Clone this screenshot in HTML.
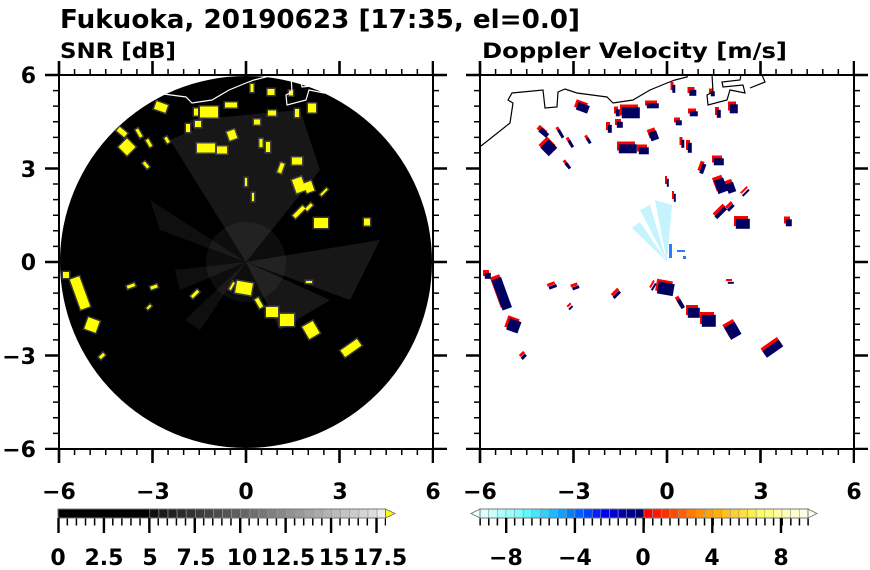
<!DOCTYPE html>
<html><head><meta charset="utf-8"><style>
html,body{margin:0;padding:0;background:#fff}
svg{display:block}
text{font-family:"DejaVu Sans","Liberation Sans",sans-serif;font-weight:bold;fill:#000}
</style></head><body>
<svg width="870" height="570" viewBox="0 0 870 570" xmlns="http://www.w3.org/2000/svg" xmlns:xlink="http://www.w3.org/1999/xlink">
<defs>
<g id="blobs">
<rect x="-6" y="-4" width="12" height="8" transform="translate(-85,-155) rotate(20)"/>
<rect x="-9" y="-5.5" width="18" height="11" transform="translate(-37,-150)"/>
<rect x="-6" y="-2.5" width="12" height="5" transform="translate(-15,-157)"/>
<rect x="-2" y="-3.5" width="4" height="7" transform="translate(-50,-150)"/>
<rect x="-3" y="-3" width="6" height="6" transform="translate(-48,-138)"/>
<rect x="-2" y="-4" width="4" height="8" transform="translate(-58,-134)"/>
<rect x="-3.5" y="-3" width="7" height="6" transform="translate(25,-170)"/>
<rect x="-1.5" y="-4" width="3" height="8" transform="translate(6,-174)"/>
<rect x="-2" y="-2.5" width="4" height="5" transform="translate(45,-169)"/>
<rect x="-4" y="-2.5" width="8" height="5" transform="translate(26,-149)"/>
<rect x="-3" y="-2.5" width="6" height="5" transform="translate(11,-140)"/>
<rect x="-4" y="-4.5" width="8" height="9" transform="translate(66,-154)"/>
<rect x="-2" y="-4" width="4" height="8" transform="translate(51,-149)"/>
<rect x="-5" y="-2.5" width="10" height="5" transform="translate(-124,-130) rotate(40)"/>
<rect x="-6" y="-6" width="12" height="12" transform="translate(-119,-115) rotate(45)"/>
<rect x="-1.5" y="-4.5" width="3" height="9" transform="translate(-107,-129) rotate(-30)"/>
<rect x="-1.5" y="-4" width="3" height="8" transform="translate(-97,-119) rotate(-30)"/>
<rect x="-1.5" y="-3" width="3" height="6" transform="translate(-79,-122) rotate(-30)"/>
<rect x="-9" y="-4.5" width="18" height="9" transform="translate(-40,-114)"/>
<rect x="-5" y="-3.5" width="10" height="7" transform="translate(-24,-112)"/>
<rect x="-4" y="-4.5" width="8" height="9" transform="translate(-14,-127) rotate(-20)"/>
<rect x="-1.5" y="-4" width="3" height="8" transform="translate(15,-119)"/>
<rect x="-2" y="-5" width="4" height="10" transform="translate(22,-115)"/>
<rect x="-5" y="-3.5" width="10" height="7" transform="translate(51,-101)"/>
<rect x="-2" y="-5" width="4" height="10" transform="translate(35,-94) rotate(20)"/>
<rect x="-1.5" y="-3.5" width="3" height="7" transform="translate(-100,-97) rotate(-40)"/>
<rect x="-5" y="-7" width="10" height="14" transform="translate(53,-77) rotate(-20)"/>
<rect x="-4" y="-5" width="8" height="10" transform="translate(63,-75) rotate(-20)"/>
<rect x="-1" y="-4.5" width="2" height="9" transform="translate(78,-70) rotate(45)"/>
<rect x="-2" y="-7" width="4" height="14" transform="translate(53,-50) rotate(45)"/>
<rect x="-1.5" y="-4" width="3" height="8" transform="translate(63,-55) rotate(45)"/>
<rect x="-7" y="-5" width="14" height="10" transform="translate(75,-39)"/>
<rect x="-3" y="-3.5" width="6" height="7" transform="translate(121,-40)"/>
<rect x="-1" y="-4" width="2" height="8" transform="translate(0,-80)"/>
<rect x="-1" y="-4" width="2" height="8" transform="translate(7,-65)"/>
<rect x="-3" y="-3" width="6" height="6" transform="translate(-180,13)"/>
<rect x="-5" y="-16" width="10" height="32" transform="translate(-166,31) rotate(-20)"/>
<rect x="-6" y="-6" width="12" height="12" transform="translate(-154,63) rotate(20)"/>
<rect x="-4" y="-1.5" width="8" height="3" transform="translate(-115,24) rotate(-20)"/>
<rect x="-3.5" y="-1.5" width="7" height="3" transform="translate(-92,25) rotate(-20)"/>
<rect x="-1.5" y="-4.5" width="3" height="9" transform="translate(-51,32) rotate(45)"/>
<rect x="-1" y="-2.5" width="2" height="5" transform="translate(-97,45) rotate(45)"/>
<rect x="-1.5" y="-3" width="3" height="6" transform="translate(-144,94) rotate(45)"/>
<rect x="-8" y="-6" width="16" height="12" transform="translate(-2,26) rotate(10)"/>
<rect x="-2" y="-5" width="4" height="10" transform="translate(13,41) rotate(-30)"/>
<rect x="-6" y="-5" width="12" height="10" transform="translate(26,50)"/>
<rect x="-7" y="-6" width="14" height="12" transform="translate(41,58)"/>
<rect x="-6" y="-7" width="12" height="14" transform="translate(65,68) rotate(-30)"/>
<rect x="-10" y="-4" width="20" height="8" transform="translate(105,86) rotate(-35)"/>
<rect x="-3" y="-1" width="6" height="2" transform="translate(63,20)"/>
<rect x="-1" y="-4" width="2" height="8" transform="translate(-14,24) rotate(30)"/>
</g>
<path id="coast" fill="none" d="M481,146 L510,123 L513,103 L508,100 L512,93 L543,90 L545,108 L557,107 L558,92 L565,89 L577,93 L607,97 L613,103 L633,100 L650,90 L667,83 L675,80 L687,77 L688,75 M712,75 L713,92 L707,95 L708,105 L727,100 L730,90 L745,93 L743,85 L723,87 L722,82 L740,80 L741,75 M750,88 L765,82 L762,75"/>
<clipPath id="cl"><rect x="59" y="75" width="374" height="374"/></clipPath>
<clipPath id="cr"><rect x="480" y="75" width="374" height="374"/></clipPath>
</defs>

<text x="60" y="28" font-size="26" textLength="520" lengthAdjust="spacingAndGlyphs">Fukuoka, 20190623 [17:35, el=0.0]</text>
<text x="60" y="58" font-size="21" textLength="116" lengthAdjust="spacingAndGlyphs">SNR [dB]</text>
<text x="482" y="58" font-size="21" textLength="305" lengthAdjust="spacingAndGlyphs">Doppler Velocity [m/s]</text>

<g clip-path="url(#cl)">
<circle cx="246" cy="262" r="186" fill="#000"/>
<g fill="#fff" opacity="0.09">
<polygon points="246,262 170,140 205,125"/>
<polygon points="246,262 190,120 300,110"/>
<polygon points="246,262 300,110 320,170"/>
<polygon points="246,262 330,300 280,330"/>
<polygon points="246,262 380,240 350,300"/>
</g>
<g fill="#fff" opacity="0.06">
<polygon points="246,262 150,200 160,230"/>
<polygon points="246,262 180,290 175,270"/>
<polygon points="246,262 200,330 185,320"/>
</g>
<circle cx="246" cy="262" r="40" fill="#fff" opacity="0.05"/>
<g transform="translate(246,262)">
<use xlink:href="#blobs" fill="#777" stroke="#777" stroke-width="3" opacity="0.45"/>
<use xlink:href="#blobs" fill="#ffff00"/>
</g>
<use xlink:href="#coast" transform="translate(-421,0)" stroke="#fff" stroke-width="1.2"/>
</g>
<rect x="59" y="75" width="374" height="374" fill="none" stroke="#000" stroke-width="2"/>

<g clip-path="url(#cr)">
<g fill="#7fe8ff" opacity="0.45">
<polygon points="667,262 640,210 650,205"/>
<polygon points="667,262 655,200 672,205"/>
<polygon points="667,262 632,228 640,222"/>
</g>
<g fill="#2080ff"><rect x="669" y="244" width="3" height="14"/><rect x="677" y="250" width="8" height="2"/><rect x="683" y="256" width="3" height="3"/></g>
<g transform="translate(667,262)">
<use xlink:href="#blobs" fill="#ff0000" transform="translate(-1,-2)"/>
<use xlink:href="#blobs" fill="#000060" transform="translate(0.8,0.8)"/>
</g>
<use xlink:href="#coast" stroke="#000" stroke-width="1.2"/>
</g>
<rect x="480" y="75" width="374" height="374" fill="none" stroke="#000" stroke-width="2"/>

<g stroke="#000">
<line x1="58.25" y1="72" x2="434" y2="72" stroke-width="6" stroke-dasharray="1.5 14.08"/>
<line x1="58.25" y1="452" x2="434" y2="452" stroke-width="6" stroke-dasharray="1.5 14.08"/>
<line x1="57.7" y1="68" x2="434" y2="68" stroke-width="14" stroke-dasharray="2.6 90.9"/>
<line x1="57.7" y1="456" x2="434" y2="456" stroke-width="14" stroke-dasharray="2.6 90.9"/>
<line x1="56" y1="74.25" x2="56" y2="450" stroke-width="6" stroke-dasharray="1.5 14.08"/>
<line x1="436" y1="74.25" x2="436" y2="450" stroke-width="6" stroke-dasharray="1.5 14.08"/>
<line x1="52" y1="73.7" x2="52" y2="450" stroke-width="14" stroke-dasharray="2.6 90.9"/>
<line x1="440" y1="73.7" x2="440" y2="450" stroke-width="14" stroke-dasharray="2.6 90.9"/>
<line x1="479.25" y1="72" x2="855" y2="72" stroke-width="6" stroke-dasharray="1.5 14.08"/>
<line x1="479.25" y1="452" x2="855" y2="452" stroke-width="6" stroke-dasharray="1.5 14.08"/>
<line x1="478.7" y1="68" x2="855" y2="68" stroke-width="14" stroke-dasharray="2.6 90.9"/>
<line x1="478.7" y1="456" x2="855" y2="456" stroke-width="14" stroke-dasharray="2.6 90.9"/>
<line x1="477" y1="74.25" x2="477" y2="450" stroke-width="6" stroke-dasharray="1.5 14.08"/>
<line x1="857" y1="74.25" x2="857" y2="450" stroke-width="6" stroke-dasharray="1.5 14.08"/>
<line x1="473" y1="73.7" x2="473" y2="450" stroke-width="14" stroke-dasharray="2.6 90.9"/>
<line x1="861" y1="73.7" x2="861" y2="450" stroke-width="14" stroke-dasharray="2.6 90.9"/>
</g>

<g font-size="22" text-anchor="end">
<text x="36" y="83">6</text>
<text x="36" y="177">3</text>
<text x="36" y="270">0</text>
<text x="36" y="364">−3</text>
<text x="36" y="457">−6</text>
</g>
<g font-size="22" text-anchor="middle">
<text x="59" y="499">−6</text>
<text x="153" y="499">−3</text>
<text x="246" y="499">0</text>
<text x="340" y="499">3</text>
<text x="433" y="499">6</text>
<text x="480" y="499">−6</text>
<text x="574" y="499">−3</text>
<text x="667" y="499">0</text>
<text x="761" y="499">3</text>
<text x="854" y="499">6</text>
</g>

<g>
<rect x="58" y="509" width="92" height="9" fill="#000"/>
<g stroke="#999" stroke-width="0.6">
<rect x="149.8" y="509" width="9.1" height="9" fill="#111"/>
<rect x="158.9" y="509" width="9.1" height="9" fill="#1a1a1a"/>
<rect x="168.0" y="509" width="9.1" height="9" fill="#222"/>
<rect x="177.1" y="509" width="9.1" height="9" fill="#2b2b2b"/>
<rect x="186.2" y="509" width="9.1" height="9" fill="#333"/>
<rect x="195.3" y="509" width="9.1" height="9" fill="#3c3c3c"/>
<rect x="204.3" y="509" width="9.1" height="9" fill="#444"/>
<rect x="213.4" y="509" width="9.1" height="9" fill="#4d4d4d"/>
<rect x="222.5" y="509" width="9.1" height="9" fill="#555"/>
<rect x="231.6" y="509" width="9.1" height="9" fill="#5e5e5e"/>
<rect x="240.7" y="509" width="9.1" height="9" fill="#666"/>
<rect x="249.8" y="509" width="9.1" height="9" fill="#6f6f6f"/>
<rect x="258.9" y="509" width="9.1" height="9" fill="#777"/>
<rect x="268.0" y="509" width="9.1" height="9" fill="#808080"/>
<rect x="277.1" y="509" width="9.1" height="9" fill="#888"/>
<rect x="286.2" y="509" width="9.1" height="9" fill="#919191"/>
<rect x="295.2" y="509" width="9.1" height="9" fill="#999"/>
<rect x="304.3" y="509" width="9.1" height="9" fill="#a2a2a2"/>
<rect x="313.4" y="509" width="9.1" height="9" fill="#aaa"/>
<rect x="322.5" y="509" width="9.1" height="9" fill="#b3b3b3"/>
<rect x="331.6" y="509" width="9.1" height="9" fill="#bbb"/>
<rect x="340.7" y="509" width="9.1" height="9" fill="#c4c4c4"/>
<rect x="349.8" y="509" width="9.1" height="9" fill="#ccc"/>
<rect x="358.9" y="509" width="9.1" height="9" fill="#d5d5d5"/>
<rect x="368.0" y="509" width="9.1" height="9" fill="#ddd"/>
<rect x="377.1" y="509" width="8.4" height="9" fill="#eee"/>
</g>
<polygon points="385.5,509 395,513.5 385.5,518" fill="#ffff00" stroke="#666" stroke-width="0.8"/>
<rect x="58" y="509" width="327.5" height="9" fill="none" stroke="#777" stroke-width="1"/>
<g stroke="#000">
<line x1="57.5" y1="522" x2="386" y2="522" stroke-width="7" stroke-dasharray="1.5 7.59"/>
<line x1="57.3" y1="525.5" x2="386" y2="525.5" stroke-width="15" stroke-dasharray="2.4 43.03"/>
</g>
<g font-size="22" text-anchor="middle">
<text x="58" y="565">0</text>
<text x="104" y="565">2.5</text>
<text x="150" y="565">5</text>
<text x="196" y="565">7.5</text>
<text x="242" y="565">10</text>
<text x="288" y="565">12.5</text>
<text x="334" y="565">15</text>
<text x="380" y="565">17.5</text>
</g>
</g>

<g>
<polygon points="480,509 471,513.5 480,518" fill="#f0ffff" stroke="#666" stroke-width="0.8"/>
<polygon points="808,509 817,513.5 808,518" fill="#ffffee" stroke="#666" stroke-width="0.8"/>
<g stroke="#999" stroke-width="0.6">
<rect x="480.0" y="509" width="8.7" height="9" fill="#e0ffff"/>
<rect x="488.6" y="509" width="8.7" height="9" fill="#c8ffff"/>
<rect x="497.3" y="509" width="8.7" height="9" fill="#b0ffff"/>
<rect x="505.9" y="509" width="8.7" height="9" fill="#98ffff"/>
<rect x="514.5" y="509" width="8.7" height="9" fill="#80ffff"/>
<rect x="523.2" y="509" width="8.7" height="9" fill="#60f8ff"/>
<rect x="531.8" y="509" width="8.7" height="9" fill="#40e8ff"/>
<rect x="540.4" y="509" width="8.7" height="9" fill="#30d0ff"/>
<rect x="549.0" y="509" width="8.7" height="9" fill="#20b8ff"/>
<rect x="557.7" y="509" width="8.7" height="9" fill="#10a0ff"/>
<rect x="566.3" y="509" width="8.7" height="9" fill="#0080ff"/>
<rect x="574.9" y="509" width="8.7" height="9" fill="#0060ff"/>
<rect x="583.6" y="509" width="8.7" height="9" fill="#0040ff"/>
<rect x="592.2" y="509" width="8.7" height="9" fill="#0020ff"/>
<rect x="600.8" y="509" width="8.7" height="9" fill="#0000f0"/>
<rect x="609.5" y="509" width="8.7" height="9" fill="#0000d0"/>
<rect x="618.1" y="509" width="8.7" height="9" fill="#0000b0"/>
<rect x="626.7" y="509" width="8.7" height="9" fill="#000090"/>
<rect x="635.3" y="509" width="8.7" height="9" fill="#000060"/>
<rect x="644.0" y="509" width="8.7" height="9" fill="#ff0000"/>
<rect x="652.6" y="509" width="8.7" height="9" fill="#ff1800"/>
<rect x="661.2" y="509" width="8.7" height="9" fill="#ff3000"/>
<rect x="669.9" y="509" width="8.7" height="9" fill="#ff4800"/>
<rect x="678.5" y="509" width="8.7" height="9" fill="#ff6000"/>
<rect x="687.1" y="509" width="8.7" height="9" fill="#ff7800"/>
<rect x="695.7" y="509" width="8.7" height="9" fill="#ff9000"/>
<rect x="704.4" y="509" width="8.7" height="9" fill="#ffa000"/>
<rect x="713.0" y="509" width="8.7" height="9" fill="#ffb010"/>
<rect x="721.6" y="509" width="8.7" height="9" fill="#ffc020"/>
<rect x="730.3" y="509" width="8.7" height="9" fill="#ffd030"/>
<rect x="738.9" y="509" width="8.7" height="9" fill="#ffe040"/>
<rect x="747.5" y="509" width="8.7" height="9" fill="#fff050"/>
<rect x="756.2" y="509" width="8.7" height="9" fill="#ffff60"/>
<rect x="764.8" y="509" width="8.7" height="9" fill="#ffff80"/>
<rect x="773.4" y="509" width="8.7" height="9" fill="#ffffa0"/>
<rect x="782.0" y="509" width="8.7" height="9" fill="#ffffb8"/>
<rect x="790.7" y="509" width="8.7" height="9" fill="#ffffd0"/>
<rect x="799.3" y="509" width="8.7" height="9" fill="#ffffe8"/>
</g>
<rect x="480" y="509" width="328" height="9" fill="none" stroke="#777" stroke-width="1"/>
<g stroke="#000">
<line x1="479.4" y1="522" x2="809" y2="522" stroke-width="7" stroke-dasharray="1.5 7.13"/>
<line x1="505" y1="525.5" x2="809" y2="525.5" stroke-width="15" stroke-dasharray="2.4 66.3"/>
</g>
<g font-size="22" text-anchor="middle">
<text x="506" y="565">−8</text>
<text x="575" y="565">−4</text>
<text x="643" y="565">0</text>
<text x="712" y="565">4</text>
<text x="781" y="565">8</text>
</g>
</g>
</svg>
</body></html>
